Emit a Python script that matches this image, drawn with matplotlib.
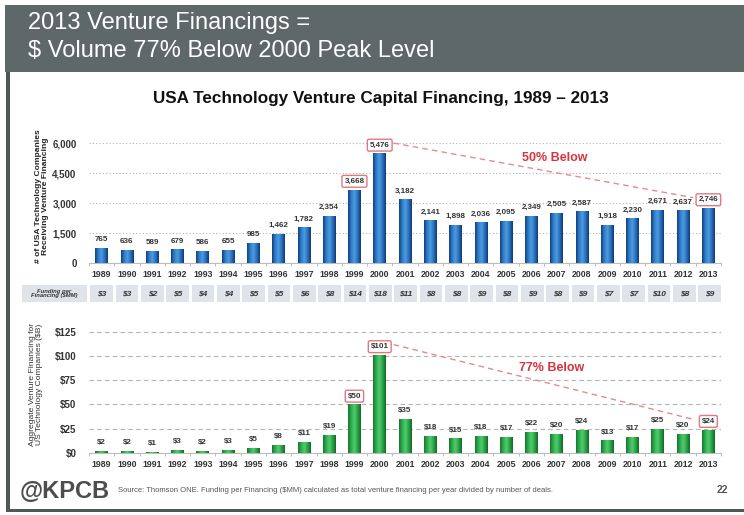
import matplotlib
matplotlib.use('Agg')
import matplotlib.pyplot as plt
import numpy as np
from matplotlib.colors import LinearSegmentedColormap
from matplotlib.patches import Rectangle
from matplotlib.transforms import offset_copy

plt.rcParams['font.family'] = ['Liberation Sans', 'DejaVu Sans']

# ---------------- data ----------------
years = [1989, 1990, 1991, 1992, 1993, 1994, 1995, 1996, 1997, 1998, 1999, 2000,
         2001, 2002, 2003, 2004, 2005, 2006, 2007, 2008, 2009, 2010, 2011, 2012, 2013]
companies = [765, 636, 589, 679, 586, 655, 985, 1462, 1782, 2354, 3668, 5476,
             3182, 2141, 1898, 2036, 2095, 2349, 2505, 2587, 1918, 2230, 2671, 2637, 2746]
funding_per = [3, 3, 2, 5, 4, 4, 5, 5, 6, 8, 14, 18,
               11, 8, 8, 9, 8, 9, 8, 9, 7, 7, 10, 8, 9]
aggregate = [2, 2, 1, 3, 2, 3, 5, 8, 11, 19, 50, 101,
             35, 18, 15, 18, 17, 22, 20, 24, 13, 17, 25, 20, 24]
highlight_years = [1999, 2000, 2013]
top_yticks = [0, 1500, 3000, 4500, 6000]
bottom_yticks = [0, 25, 50, 75, 100, 125]

W, H = 744, 515
fig = plt.figure(figsize=(W / 100, H / 100), dpi=100)
fig.patch.set_facecolor('white')


def rect(l, t, r, b):
    return [l / W, 1 - b / H, (r - l) / W, (b - t) / H]


def fx(x):
    return x / W


def fy(y):
    return 1 - y / H


def fig_rect(l, t, r, b, **kw):
    fig.patches.append(Rectangle((fx(l), fy(b)), (r - l) / W, (b - t) / H,
                                 transform=fig.transFigure, **kw))


# ---------------- frame & header ----------------
fig_rect(5, 5, W, 72, fc='#5e6868', ec='none')
fig_rect(6, 72, 10, 512, fc='#4f5757', ec='none')
fig_rect(6, 509, W, 512, fc='#4f5757', ec='none')
fig.text(fx(28), fy(23), '2013 Venture Financings =', color='white', fontsize=17,
         ha='left', va='center')
fig.text(fx(28), fy(51), '$ Volume 77% Below 2000 Peak Level', color='white', fontsize=17,
         ha='left', va='center')
fig.text(fx(381), fy(98), 'USA Technology Venture Capital Financing, 1989 \u2013 2013',
         fontsize=12.3, weight='bold', ha='center', va='center', color='#111111')

x = np.arange(len(years))
XLIM = (-0.5, 24.45)
grad = np.linspace(0, 1, 64).reshape(1, -1)
blue_cmap = LinearSegmentedColormap.from_list(
    'b', ['#123f82', '#2f7cc8', '#4c9de2', '#2a70bb', '#0f3a78'])
green_cmap = LinearSegmentedColormap.from_list(
    'g', ['#16762e', '#2fae4e', '#52cc6e', '#29a346', '#126a28'])
red_edge = '#e0787f'
red_text = '#d8343d'


def draw_bars(ax, vals, cmap, mid):
    bars = ax.bar(x, vals, 0.5, color=mid, zorder=3, linewidth=0)
    for b in bars:
        im = ax.imshow(grad, extent=(b.get_x(), b.get_x() + b.get_width(), 0, b.get_height()),
                       aspect='auto', cmap=cmap, zorder=3, interpolation='bilinear')
        im.set_clip_path(b)
    return bars


def style_axis(ax, yticks, ylabels, ylim, gridstyle):
    ax.set_xlim(*XLIM)
    ax.set_ylim(*ylim)
    for s in ['left', 'top', 'right']:
        ax.spines[s].set_visible(False)
    ax.spines['bottom'].set_color('#bdbdbd')
    ax.spines['bottom'].set_linewidth(0.8)
    ax.set_yticks(yticks)
    ax.set_yticklabels(ylabels)
    ax.yaxis.grid(True, linestyle=gridstyle, color='#b3b3b3', linewidth=0.8)
    ax.set_axisbelow(True)
    ax.set_xticks(x)
    ax.set_xticklabels([str(y) for y in years])
    ax.set_xticks(np.append(x - 0.5, x[-1] + 0.5), minor=True)
    ax.tick_params(axis='x', which='major', length=0, pad=5, labelsize=6.3, colors='#333333')
    ax.tick_params(axis='x', which='minor', length=2, color='#b0b0b0', direction='out')
    ax.tick_params(axis='y', length=0, pad=9, labelsize=7, colors='#333333')
    for lab in ax.get_xticklabels() + ax.get_yticklabels():
        lab.set_fontweight('bold')


def value_labels(ax, vals, fmt):
    for i, (yr, v) in enumerate(zip(years, vals)):
        kw = {}
        if yr in highlight_years:
            kw['bbox'] = dict(boxstyle='round,pad=0.3,rounding_size=0.2', fc='white',
                              ec=red_edge, lw=1.0)
        ax.annotate(fmt(v), (i, v), xytext=(0, 6), textcoords='offset points',
                    ha='center', va='center', fontsize=5.8, weight='bold',
                    color='#333333', zorder=5, annotation_clip=False, **kw)


def trend_line(ax, vals):
    i0 = years.index(2000)
    i1 = years.index(2013)
    tr = offset_copy(ax.transData, fig=fig, y=7.5, units='points')
    ax.plot([i0 + 0.55, i1 - 0.6], [vals[i0], vals[i1]], transform=tr,
            linestyle=(0, (4, 3)), color='#e58a90', lw=1.0, clip_on=False, zorder=2)


# ---------------- top chart ----------------
ax1 = fig.add_axes(rect(89, 130, 721, 263))
draw_bars(ax1, companies, blue_cmap, '#2a70bb')
style_axis(ax1, top_yticks, [f'{v:,}' for v in top_yticks], (0, 6650), (0, (1, 2)))
value_labels(ax1, companies, lambda v: f'{v:,}')
trend_line(ax1, companies)
fig.text(fx(555), fy(158), '50% Below', color=red_text, fontsize=9, weight='bold',
         ha='center', va='center')
fig.text(fx(42), fy(196), '# of USA Technology Companies\nReceiving Venture Financing',
         rotation=90, ha='center', va='center', fontsize=6.1, weight='bold',
         color='#222222', linespacing=1.05)

# ---------------- funding row ----------------
axf = fig.add_axes(rect(89, 285, 721, 302))
axf.set_xlim(*XLIM)
axf.set_ylim(0, 1)
axf.axis('off')
for i, v in enumerate(funding_per):
    axf.add_patch(Rectangle((i - 0.45, 0), 0.9, 1, fc='#dfe4ea', ec='none'))
    axf.text(i, 0.5, f'${v}', ha='center', va='center', fontsize=6, style='italic',
             weight='bold', color='#333333')
fig_rect(22, 285, 87, 302, fc='#dfe4ea', ec='none')
fig.text(fx(54.5), fy(293.5), 'Funding per\nFinancing ($MM)', ha='center', va='center',
         fontsize=4.2, style='italic', weight='bold', color='#333333', linespacing=1.0)

# ---------------- bottom chart ----------------
ax2 = fig.add_axes(rect(89, 320, 721, 453))
draw_bars(ax2, aggregate, green_cmap, '#29a346')
style_axis(ax2, bottom_yticks, [f'${v}' for v in bottom_yticks], (0, 137.1), (0, (4, 3)))
value_labels(ax2, aggregate, lambda v: f'${v}')
trend_line(ax2, aggregate)
fig.text(fx(552), fy(368), '77% Below', color=red_text, fontsize=9, weight='bold',
         ha='center', va='center')
fig.text(fx(36), fy(384), 'Aggregate Venture Financing for\nUS Technology Companies ($B)',
         rotation=90, ha='center', va='center', fontsize=6.1, color='#333333',
         linespacing=1.05)

# ---------------- footer ----------------
fig.text(fx(20), fy(491), '@KPCB', fontsize=17, weight='bold', color='#4d4d4d',
         ha='left', va='center')
fig.text(fx(118), fy(491),
         'Source: Thomson ONE. Funding per Financing ($MM) calculated as total venture '
         'financing per year divided by number of deals.',
         fontsize=5.5, color='#555555', ha='left', va='center')
fig.text(fx(728), fy(490), '22', fontsize=7.5, weight='bold', color='#555555',
         ha='right', va='center')

fig.savefig('out.png', dpi=100, facecolor='white')
